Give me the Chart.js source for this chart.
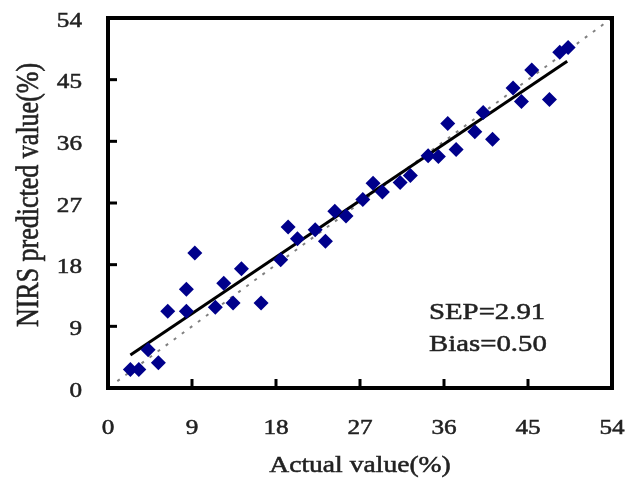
<!DOCTYPE html>
<html>
<head>
<meta charset="utf-8">
<script src="https://cdn.jsdelivr.net/npm/chart.js@4"></script>
<style>
  body { margin: 0; background: #fff; }
</style>
</head>
<body>
<canvas id="chart" width="631" height="486"></canvas>
<script>
// values
const actualVals = [2.4, 3.3, 4.3, 5.4, 6.4, 8.4, 8.4, 9.3, 11.5, 12.4, 13.4, 14.3, 16.4, 18.5, 19.3, 20.3, 22.2, 23.3, 24.3, 25.5,
  27.3, 28.4, 29.4, 31.3, 32.4, 34.3, 35.4, 36.4, 37.3, 39.3, 40.2, 41.2, 43.4, 44.3, 45.4, 47.3, 48.4, 49.3];
const predictedVals = [2.7, 2.7, 5.6, 3.7, 11.2, 14.4, 11.2, 19.7, 11.8, 15.3, 12.4, 17.4, 12.4, 18.7, 23.5, 21.8, 23.1, 21.4, 25.8, 25.1,
  27.5, 29.9, 28.6, 30.0, 31.0, 33.9, 33.8, 38.6, 34.8, 37.4, 40.2, 36.3, 43.8, 41.8, 46.4, 42.1, 49.0, 49.7];
const fitLine = [[2.4, 4.8], [49.2, 47.7]];
const idealLine = [[1, 1], [54, 54]];
const tickVals = [0, 9, 18, 27, 36, 45, 54];
const statLines = ['SEP=2.91', 'Bias=0.50'];

const FONT = '"Liberation Serif", "Times New Roman", serif';
const SX = 1.2; // the picture's text is a bit wide

// draw text stretched horizontally, with a hairline stroke to fatten it
function wideText(ctx, s, px, py, rot) {
  ctx.save();
  ctx.translate(px, py);
  ctx.scale(SX, 1);
  if (rot) ctx.rotate(rot);
  ctx.fillText(s, 0, 0);
  ctx.strokeText(s, 0, 0);
  ctx.restore();
}

// frame, inward ticks and all the text
const framePlugin = {
  id: 'frame',
  afterDraw(chart) {
    const ctx = chart.ctx;
    const xs = chart.scales.x, ys = chart.scales.y;
    const a = chart.chartArea;
    ctx.save();
    ctx.strokeStyle = '#000';
    ctx.lineWidth = 4;
    ctx.strokeRect(a.left, a.top, a.right - a.left, a.bottom - a.top);
    ctx.lineWidth = 3;
    tickVals.slice(1, -1).forEach(v => {
      const px = xs.getPixelForValue(v);
      ctx.beginPath(); ctx.moveTo(px, a.bottom); ctx.lineTo(px, a.bottom - 9); ctx.stroke();
      const py = ys.getPixelForValue(v);
      ctx.beginPath(); ctx.moveTo(a.left, py); ctx.lineTo(a.left + 9, py); ctx.stroke();
    });

    ctx.fillStyle = '#222';
    ctx.strokeStyle = '#222';
    ctx.lineWidth = 0.5;
    ctx.font = '21px ' + FONT;
    ctx.textBaseline = 'middle';
    ctx.textAlign = 'center';
    tickVals.forEach(v => wideText(ctx, String(v), xs.getPixelForValue(v), 428));
    ctx.textAlign = 'right';
    tickVals.forEach(v => wideText(ctx, String(v), 82, ys.getPixelForValue(v) + 3));

    ctx.textAlign = 'center';
    ctx.font = '23px ' + FONT;
    wideText(ctx, 'Actual value(%)', (a.left + a.right) / 2, 466);
    ctx.font = '26px ' + FONT;
    wideText(ctx, 'NIRS predicted value(%)', 30, 195, -Math.PI / 2);

    ctx.textAlign = 'left';
    ctx.font = '24px ' + FONT;
    wideText(ctx, statLines[0], 429, 313);
    wideText(ctx, statLines[1], 429, 345);
    ctx.restore();
  }
};

const toPts = arr => arr.map(p => ({ x: p[0], y: p[1] }));

new Chart(document.getElementById('chart'), {
  type: 'scatter',
  data: {
    datasets: [{
      label: 'samples',
      data: actualVals.map((v, i) => ({ x: v, y: predictedVals[i] })),
      pointStyle: 'rectRot',
      pointRadius: 7.5,
      pointHoverRadius: 7.5,
      backgroundColor: '#00008b',
      borderColor: '#00008b',
      borderWidth: 0
    }, {
      label: 'fit',
      type: 'line',
      data: toPts(fitLine),
      borderColor: '#000',
      borderWidth: 3,
      pointRadius: 0
    }, {
      label: '1:1',
      type: 'line',
      data: toPts(idealLine),
      borderColor: '#808080',
      borderWidth: 2,
      borderDash: [3, 7],
      pointRadius: 0
    }]
  },
  options: {
    responsive: false,
    animation: false,
    layout: { padding: { left: 108, right: 19, top: 18, bottom: 98 } },
    plugins: { legend: { display: false }, tooltip: { enabled: false } },
    scales: {
      x: { type: 'linear', min: 0, max: 54, display: false },
      y: { type: 'linear', min: 0, max: 54, display: false }
    }
  },
  plugins: [framePlugin]
});
</script>
</body>
</html>
